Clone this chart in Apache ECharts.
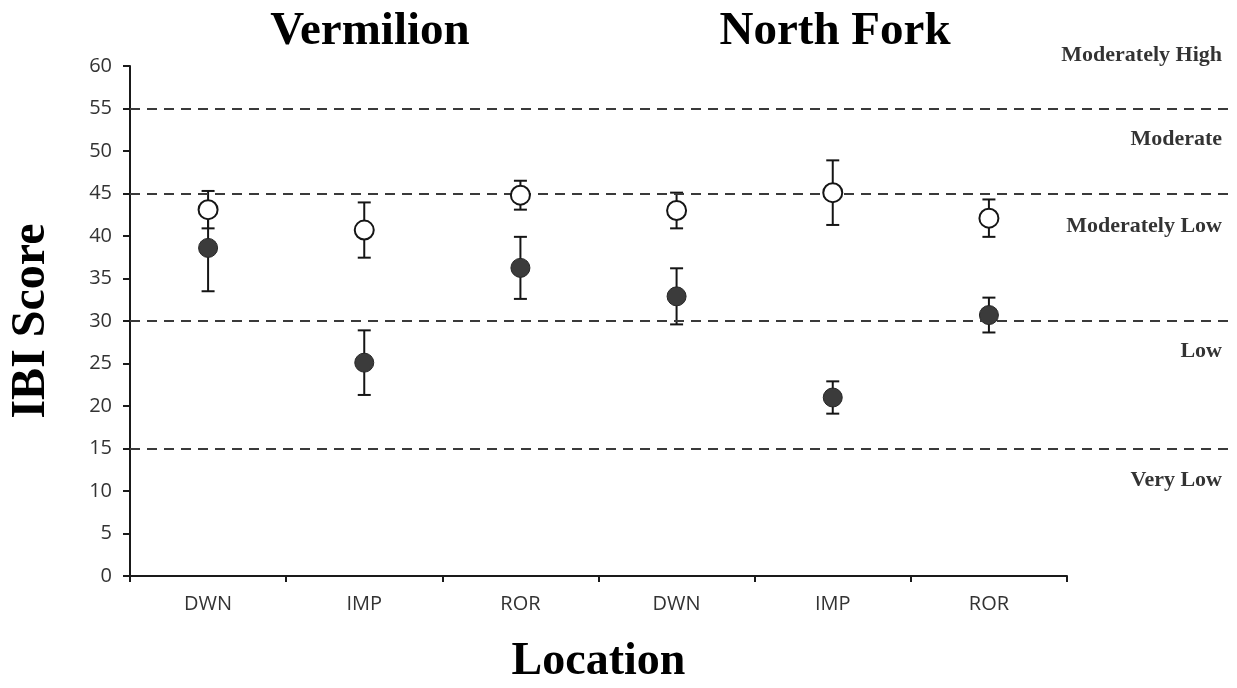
<!DOCTYPE html>
<html>
<head>
<meta charset="utf-8">
<script src="https://cdn.jsdelivr.net/npm/echarts@6/dist/echarts.min.js"></script>
<style>html,body{margin:0;padding:0;background:#fff}#c{width:1237px;height:688px}</style>
</head>
<body>
<div id="c"></div>
<script>
// ---- data ----
var categories = ['DWN', 'IMP', 'ROR', 'DWN', 'IMP', 'ROR'];
var riverTitles = ['Vermilion', 'North Fork'];
var openMean = [43.1, 40.7, 44.8, 43.0, 45.1, 42.1];
var openErr = [2.2, 3.25, 1.7, 2.1, 3.8, 2.2];
var filledMean = [38.6, 25.1, 36.25, 32.9, 21.0, 30.7];
var filledErr = [5.1, 3.8, 3.65, 3.3, 1.9, 2.05];
var thresholds = [55, 45, 30, 15];
var bandLabels = ['Moderately High', 'Moderate', 'Moderately Low', 'Low', 'Very Low'];
var bandLabelY = [61.2, 51.4, 41.1, 26.4, 11.2];
var yTicks = [0, 5, 10, 15, 20, 25, 30, 35, 40, 45, 50, 55, 60];

var chart = echarts.init(document.getElementById('c'), null, {renderer: 'canvas'});

function errData(mean, err) {
  return mean.map(function (m, i) { return [i, m - err[i], m + err[i]]; });
}
function ptData(mean) {
  return mean.map(function (m, i) { return [i, m]; });
}
function renderErr(params, api) {
  var x = api.value(0), lo = api.value(1), hi = api.value(2);
  var pLo = api.coord([x, lo]), pHi = api.coord([x, hi]);
  var w = 6.5;
  var st = {stroke: '#151515', lineWidth: 2};
  return {
    type: 'group',
    children: [
      {type: 'line', shape: {x1: pLo[0], y1: pLo[1], x2: pHi[0], y2: pHi[1]}, style: st},
      {type: 'line', shape: {x1: pHi[0] - w, y1: pHi[1], x2: pHi[0] + w, y2: pHi[1]}, style: st},
      {type: 'line', shape: {x1: pLo[0] - w, y1: pLo[1], x2: pLo[0] + w, y2: pLo[1]}, style: st}
    ]
  };
}

var serif = "'Liberation Serif', 'DejaVu Serif', serif";
var sans = "'Open Sans', 'Liberation Sans', sans-serif";

var option = {
  animation: false,
  backgroundColor: '#fff',
  title: [
    {text: riverTitles[0], left: 365, top: 3, textAlign: 'center',
     textStyle: {fontFamily: serif, fontWeight: 'bold', fontSize: 47, color: '#000'}},
    {text: riverTitles[1], left: 830, top: 3, textAlign: 'center',
     textStyle: {fontFamily: serif, fontWeight: 'bold', fontSize: 47, color: '#000'}}
  ],
  grid: [
    {left: 130, right: 170, top: 66, bottom: 112, outerBoundsMode: 'none', containLabel: false},
    {left: 130, right: 5, top: 66, bottom: 112, outerBoundsMode: 'none', containLabel: false}
  ],
  xAxis: [
    {
      type: 'category', gridIndex: 0, data: categories, boundaryGap: true,
      axisLine: {show: true, lineStyle: {color: '#1a1a1a', width: 2}},
      axisTick: {show: true, alignWithLabel: false, length: 6, lineStyle: {color: '#1a1a1a', width: 2}},
      axisLabel: {fontFamily: sans, fontSize: 20, color: '#333', margin: 18},
      name: 'Location', nameLocation: 'middle', nameGap: 63,
      nameTextStyle: {fontFamily: serif, fontWeight: 'bold', fontSize: 46, color: '#000'}
    },
    {type: 'value', gridIndex: 1, min: 0, max: 1, show: false}
  ],
  yAxis: [
    {
      type: 'value', gridIndex: 0, min: 0, max: 60, interval: 5,
      axisLine: {show: true, lineStyle: {color: '#1a1a1a', width: 2}},
      axisTick: {show: true, length: 7, lineStyle: {color: '#1a1a1a', width: 2}},
      splitLine: {show: false},
      axisLabel: {fontFamily: sans, fontSize: 20, color: '#333', margin: 18,
        formatter: function (v) { return yTicks.indexOf(v) >= 0 ? String(v) : ''; }},
      name: 'IBI Score', nameLocation: 'middle', nameGap: 74, nameRotate: 90,
      nameTextStyle: {fontFamily: serif, fontWeight: 'bold', fontSize: 48, color: '#000'}
    },
    {type: 'value', gridIndex: 1, min: 0, max: 60, show: false}
  ],
  series: [
    {
      type: 'scatter', xAxisIndex: 1, yAxisIndex: 1, symbolSize: 0, clip: false,
      data: bandLabels.map(function (t, i) { return {value: [1, bandLabelY[i]], name: t}; }),
      label: {show: true, position: 'left', distance: 10, formatter: '{b}',
        fontFamily: serif, fontWeight: 'bold', fontSize: 22, color: '#000'},
      markLine: {
        silent: true, symbol: 'none', animation: false,
        label: {show: false},
        lineStyle: {color: '#3a3a3a', width: 2, type: [10, 7]},
        data: thresholds.map(function (t) { return {yAxis: t}; })
      },
      z: 1
    },
    {type: 'custom', xAxisIndex: 0, yAxisIndex: 0, renderItem: renderErr,
     data: errData(filledMean, filledErr), z: 2},
    {type: 'scatter', xAxisIndex: 0, yAxisIndex: 0, symbol: 'circle', symbolSize: 19,
     itemStyle: {color: '#3b3b3b', borderColor: '#262626', borderWidth: 1, opacity: 1},
     data: ptData(filledMean), z: 3},
    {type: 'custom', xAxisIndex: 0, yAxisIndex: 0, renderItem: renderErr,
     data: errData(openMean, openErr), z: 4},
    {type: 'scatter', xAxisIndex: 0, yAxisIndex: 0, symbol: 'circle', symbolSize: 19,
     itemStyle: {color: '#fff', borderColor: '#151515', borderWidth: 2, opacity: 1},
     data: ptData(openMean), z: 5}
  ]
};
chart.setOption(option);
</script>
</body>
</html>
